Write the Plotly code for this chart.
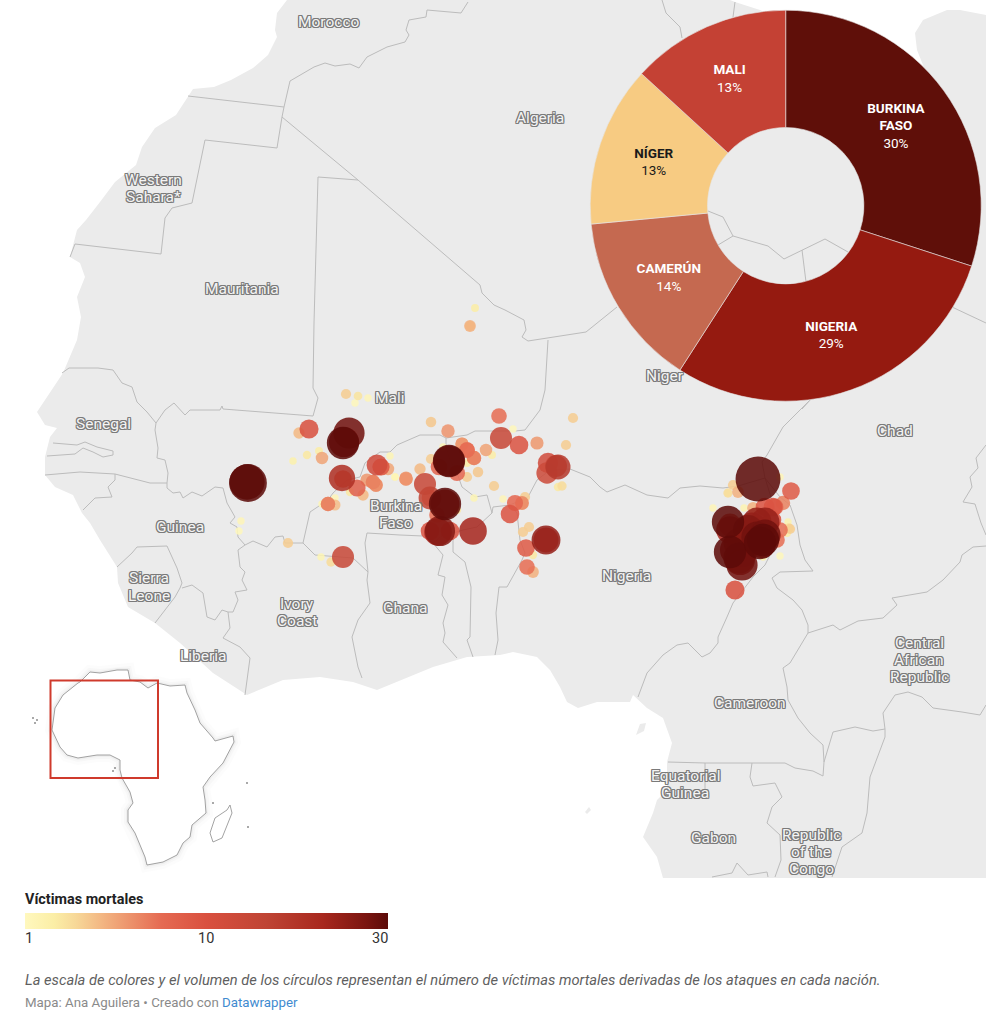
import math
import plotly.graph_objects as go

# Map units are the picture's own pixels
coast = [(287, 0), (277, 13), (275, 30), (277, 37), (268, 55), (253, 68), (231, 80), (214, 87), (193, 89),
         (188, 97), (176, 115), (155, 128), (142, 147), (136, 165), (115, 182), (100, 202), (86, 220), (77, 230),
         (70, 257), (80, 263), (85, 277), (77, 297), (81, 317), (77, 340), (63, 373), (37, 412), (45, 425),
         (57, 428), (50, 437), (45, 457), (45, 475), (55, 487), (73, 495), (82, 513), (90, 523), (100, 540),
         (117, 567), (118, 583), (128, 607), (155, 623), (180, 643), (213, 673), (247, 695), (283, 680),
         (320, 677), (353, 682), (377, 690), (433, 667), (467, 657), (500, 655), (513, 652), (537, 657),
         (550, 670), (560, 687), (567, 702), (578, 708), (597, 702), (630, 702), (633, 695), (647, 708),
         (663, 718), (672, 743), (667, 762), (667, 790), (657, 800), (653, 813), (643, 837), (657, 857),
         (663, 878), (986, 878), (986, 15), (960, 10), (947, 10), (923, 20), (915, 33), (917, 50), (925, 70),
         (800, 30), (760, 10), (735, 2), (730, 0)]
bioko = [(636, 735), (640, 724), (646, 723), (644, 731)]
sao_tome = [(585, 812), (589, 807), (591, 810), (587, 814)]

borders = [
    [(468, 2), (461, 13), (427, 10), (426, 17), (409, 20), (406, 30), (409, 35), (405, 42), (387, 47), (367, 57),
     (359, 68), (350, 64), (335, 66), (325, 63), (314, 67), (290, 81), (284, 107)],
    [(188, 96), (284, 107)],
    [(284, 107), (282, 117), (277, 148), (205, 140), (192, 203), (172, 208), (165, 218), (161, 254), (75, 244),
     (70, 257)],
    [(282, 117), (358, 180), (480, 285), (482, 293), (494, 305), (505, 310), (524, 320), (526, 330), (522, 337),
     (528, 341), (586, 332), (617, 307)],
    [(358, 180), (318, 177), (314, 323), (313, 388), (318, 398), (313, 416), (223, 409), (222, 406), (220, 410),
     (190, 410), (185, 415), (174, 403), (165, 410), (156, 423)],
    [(548, 340), (545, 390), (540, 410), (525, 430), (515, 431), (475, 431), (467, 435), (446, 438)],
    [(62, 373), (69, 368), (98, 368), (113, 370), (122, 383), (132, 387), (137, 402), (147, 412), (156, 423),
     (155, 430), (158, 448), (157, 458), (165, 460), (168, 473), (167, 483)],
    [(53, 443), (77, 445), (85, 442), (97, 447), (113, 451), (113, 455), (103, 457), (93, 452), (83, 448),
     (75, 454), (47, 456)],
    [(45, 475), (80, 472), (115, 474), (132, 478), (150, 483), (167, 483)],
    [(115, 474), (115, 480), (108, 487), (112, 497), (95, 498), (83, 510)],
    [(167, 483), (167, 488), (173, 493), (180, 492), (183, 498), (192, 492), (202, 496), (215, 487), (223, 488),
     (227, 503), (235, 517), (230, 523), (237, 527), (238, 537), (245, 545), (253, 541), (267, 547), (275, 537),
     (283, 536), (285, 543), (303, 543), (310, 512), (328, 500), (333, 493), (347, 480), (360, 477), (365, 463),
     (380, 452), (390, 452), (397, 445), (420, 435), (440, 435), (446, 438), (446, 447), (450, 460), (457, 473),
     (462, 487), (475, 497), (487, 495), (492, 513), (477, 527), (463, 530), (453, 533), (443, 535), (433, 543),
     (423, 536), (400, 535), (367, 533), (365, 543), (368, 572), (353, 558), (315, 555), (303, 543)],
    [(368, 572), (367, 580), (370, 603), (358, 620), (352, 637), (358, 667), (362, 678)],
    [(245, 545), (238, 550), (240, 567), (245, 572), (242, 580), (247, 590), (235, 592), (238, 600), (233, 612),
     (228, 612), (222, 610), (215, 620), (207, 617), (203, 593), (192, 585), (182, 588)],
    [(117, 567), (132, 553), (137, 547), (167, 546), (177, 568), (182, 583), (180, 588), (175, 597), (155, 623)],
    [(228, 612), (230, 628), (223, 638), (240, 647), (250, 658), (245, 695)],
    [(433, 543), (443, 555), (438, 575), (445, 577), (442, 595), (448, 605), (443, 623), (445, 633), (443, 642),
     (457, 658)],
    [(453, 533), (453, 552), (465, 562), (471, 587), (470, 637), (467, 640), (473, 657)],
    [(492, 513), (493, 507), (510, 505), (517, 513), (520, 540), (525, 553), (522, 560), (518, 567), (507, 587),
     (499, 587), (496, 613), (498, 640), (495, 655)],
    [(510, 505), (528, 497), (537, 480), (550, 470), (570, 469), (590, 477), (600, 487), (607, 492), (625, 485),
     (647, 495), (668, 498), (680, 488), (700, 486), (723, 488), (738, 486), (765, 478)],
    [(802, 409), (812, 398), (783, 427), (767, 455), (762, 462), (765, 478), (780, 497), (790, 505), (797, 525),
     (800, 545), (805, 560), (813, 571), (780, 572), (772, 578), (777, 588), (793, 600), (802, 610), (808, 625),
     (808, 633), (833, 625), (840, 630), (858, 621), (883, 618), (897, 605), (892, 598), (927, 592), (943, 580),
     (960, 562), (962, 555), (973, 547), (986, 546)],
    [(986, 445), (976, 458), (978, 468), (970, 477), (972, 487), (963, 502), (975, 504), (981, 523), (986, 535)],
    [(765, 478), (775, 510), (775, 545), (765, 565), (753, 577), (733, 603), (727, 617), (718, 637), (718, 643),
     (710, 653), (702, 657), (688, 643), (677, 645), (663, 655), (647, 673), (638, 697)],
    [(808, 633), (798, 650), (790, 663), (783, 668), (787, 687), (788, 700), (798, 718), (810, 733), (823, 745),
     (824, 762), (833, 732), (855, 727), (873, 731), (885, 729), (883, 713), (895, 695), (908, 692), (922, 697),
     (933, 708), (962, 712), (980, 715), (986, 705)],
    [(885, 729), (885, 737), (870, 777), (867, 813), (862, 833), (842, 847), (832, 877)],
    [(668, 762), (705, 763), (752, 763), (785, 763), (795, 768), (813, 771), (823, 776), (824, 762)],
    [(705, 763), (705, 792), (667, 790)],
    [(752, 763), (750, 777), (753, 786), (775, 783), (782, 797), (772, 807), (767, 823), (780, 835), (781, 860),
     (775, 877)],
    [(712, 877), (732, 873), (737, 863), (748, 875), (767, 872), (768, 877)],
    [(708, 211), (723, 217), (733, 236), (718, 245)],
    [(733, 236), (768, 246), (784, 259), (802, 250), (825, 239), (848, 252)],
    [(802, 250), (806, 282)],
    [(662, 0), (666, 13), (680, 27), (682, 38)],
    [(735, 2), (733, 17)],
    [(952, 307), (986, 323)],
]

africa = [(80, 682), (90, 672), (100, 673), (117, 670), (128, 670), (130, 680), (140, 682), (148, 688), (157, 683),
          (170, 686), (185, 685), (187, 693), (195, 710), (200, 723), (213, 738), (215, 741), (233, 736), (234, 742),
          (223, 763), (210, 777), (203, 787), (205, 800), (206, 813), (192, 825), (190, 837), (183, 843), (177, 855),
          (163, 862), (147, 865), (145, 857), (135, 833), (128, 822), (128, 810), (133, 803), (130, 792), (122, 778),
          (120, 770), (120, 760), (110, 755), (97, 755), (78, 758), (67, 755), (60, 747), (52, 730), (55, 708),
          (63, 695), (78, 683), (80, 682)]
madagascar = [(230, 805), (232, 813), (222, 838), (213, 842), (210, 833), (215, 818), (227, 810), (230, 805)]
inset_islands_x = [33, 37, 35, 115, 113, 247, 248, 213]
inset_islands_y = [718, 720, 723, 768, 771, 783, 827, 803]

# Attacks: position on the map and number of deaths
event_x = [248, 247, 309, 299, 349, 343, 344, 307, 293, 319, 322, 342, 343, 377, 381, 388, 390, 395, 406, 406, 367, 373,
           376, 357, 350, 363, 328, 335, 322, 335, 420, 431, 448, 499, 513, 501, 519, 537, 573, 566, 462, 467, 474,
           486, 492, 443, 431, 449, 449, 439, 457, 467, 478, 467, 494, 474, 503, 425, 430, 445, 445, 437, 457, 430,
           438, 440, 450, 473, 515, 522, 525, 510, 548, 547, 558, 556, 558, 562, 529, 523, 546, 546, 526, 533, 527,
           533, 343, 331, 321, 288, 241, 239, 346, 358, 368, 355, 475, 470, 470, 758, 791, 735, 728, 730, 730, 739,
           742, 737, 752, 765, 757, 763, 760, 747, 738, 773, 765, 780, 777, 772, 783, 753, 738, 733, 728, 713, 744,
           788, 790, 789, 787, 780, 763, 780,
           467, 474, 381, 373, 376, 406, 328, 522, 430, 462, 757, 740, 762, 730, 775, 395, 790, 728, 470,
           748, 757, 765, 735, 742]
event_y = [483, 482, 429, 433, 433, 443, 442, 455, 461, 451, 458, 478, 479, 465, 467, 469, 456, 477, 479, 478, 480, 482,
           485, 488, 492, 495, 504, 505, 504, 498, 469, 422, 431, 416, 429, 438, 445, 443, 418, 445, 444, 450, 458,
           450, 455, 447, 459, 461, 461, 467, 473, 477, 472, 463, 486, 498, 499, 484, 498, 504, 504, 515, 510, 531,
           532, 531, 531, 531, 503, 503, 497, 514, 463, 473, 467, 466, 487, 486, 527, 532, 540, 540, 548, 555, 567,
           572, 557, 562, 557, 543, 521, 531, 394, 396, 398, 403, 308, 326, 326, 479, 491, 590, 522, 530, 552, 558,
           565, 547, 527, 522, 537, 540, 543, 540, 543, 507, 507, 530, 540, 520, 503, 508, 492, 485, 493, 508, 508,
           522, 529, 528, 533, 556, 557, 477,
           450, 458, 467, 482, 485, 479, 504, 503, 498, 444, 540, 560, 545, 525, 507, 477, 529, 493, 326,
           530, 522, 535, 550, 552]
event_deaths = [41, 36, 10.5, 3.7, 28, 30, 26, 2, 1.6, 1.8, 4.5, 20, 9, 12.5, 8.5, 4.4, 1.3, 1.3, 5.2, 5, 5, 6,
                5.5, 8.5, 2, 3.7, 6, 3.5, 1.3, 1.2, 3.7, 3.2, 5.2, 7, 1.1, 14, 10, 5, 3, 3, 5, 7, 6,
                4.5, 1.8, 1.3, 3, 30, 28, 8, 7.5, 3, 3.2, 1.8, 3, 1.3, 1.2, 14, 15, 30, 24, 7, 2, 10,
                22, 26, 10, 22, 7.5, 5.5, 3, 10, 12, 13, 18, 14, 2, 2.5, 3, 3, 24, 18, 9, 2, 7,
                4, 14, 2.5, 1.3, 3, 1.2, 1.1, 3, 2.2, 1.2, 1.1, 1.8, 4, 3, 58, 9, 10.5, 30, 22, 30, 28,
                28, 12, 24, 24, 28, 30, 30, 20, 24, 10, 10, 7, 7, 10, 6, 4, 4, 3, 2.5, 1.2, 1.4,
                1.5, 3, 2.5, 1.8, 1.1, 1.5, 1.2,
                7, 6, 8, 6, 5, 5, 6, 5, 8, 5, 26, 26, 20, 15, 8, 1.2, 1.5, 1.5, 2,
                26, 24, 28, 26, 26]

# Share of deaths by country
pie_labels = ['BURKINA<br>FASO', 'NIGERIA', 'CAMERÚN', 'NÍGER', 'MALI']
pie_values = [30.0, 29.1, 14.4, 13.3, 13.2]
pie_colors = ['#5f0f09', '#951a10', '#c56950', '#f7cb82', '#c44134']
pie_text_colors = ['#ffffff', '#ffffff', '#ffffff', '#1a1a1a', '#ffffff']

# One entry per printed line
place_names = ['Morocco', 'Algeria', 'Western', 'Sahara*', 'Mauritania', 'Mali', 'Senegal', 'Guinea', 'Sierra', 'Leone',
               'Ivory', 'Coast', 'Ghana', 'Liberia', 'Burkina', 'Faso', 'Nigeria', 'Niger', 'Chad', 'Central',
               'African', 'Republic', 'Cameroon', 'Equatorial', 'Guinea', 'Gabon', 'Republic', 'of the', 'Congo']
place_x = [329, 540, 153, 153, 242, 390, 103, 180, 149, 149, 297, 297, 405, 203, 396, 396, 626, 665, 895, 919,
           919, 919, 750, 685, 685, 713, 811, 811, 811]
place_y = [22, 118, 180, 197, 289, 398, 424, 527, 578, 596, 604, 621, 608, 656, 506, 523, 576, 376, 431, 643,
           660, 677, 703, 776, 793, 838, 835, 852, 869]

scale_ticks = [1, 10, 30]
scale_colors = [[0, '#fff8be'], [0.08, '#fbeea6'], [0.14, '#f7d898'], [0.21, '#f3b783'], [0.376, '#e56a52'],
                [0.5, '#d9503f'], [0.665, '#bf4434'], [0.82, '#a8281e'], [0.94, '#7a1510'], [1, '#5c0b08']]


def xs(points):
    return [p[0] for p in points]


def ys(points):
    return [p[1] for p in points]


fig = go.Figure()

# Land
for shape in [coast, bioko, sao_tome]:
    fig.add_trace(go.Scatter(x=xs(shape), y=ys(shape), mode='lines', fill='toself', fillcolor='#ebebeb',
                             line=dict(width=0), hoverinfo='skip'))

# Country borders
border_x, border_y = [], []
for line in borders:
    border_x += xs(line) + [None]
    border_y += ys(line) + [None]
fig.add_trace(go.Scatter(x=border_x, y=border_y, mode='lines', line=dict(color='#bcbcbc', width=1), hoverinfo='skip'))

# Locator map, with a soft halo round Africa
for width, color in [(14, 'rgba(0,0,0,0.012)'), (8, 'rgba(0,0,0,0.02)'), (4, 'rgba(0,0,0,0.03)')]:
    fig.add_trace(go.Scatter(x=xs(africa), y=ys(africa), mode='lines', line=dict(color=color, width=width),
                             hoverinfo='skip'))
for shape in [africa, madagascar]:
    fig.add_trace(go.Scatter(x=xs(shape), y=ys(shape), mode='lines', fill='toself', fillcolor='white',
                             line=dict(color='#8c8c8c', width=0.8), hoverinfo='skip'))
fig.add_trace(go.Scatter(x=inset_islands_x, y=inset_islands_y, mode='markers',
                         marker=dict(color='#8c8c8c', size=2), hoverinfo='skip'))

# Attacks, smallest first so the big ones sit on top.
# Colour runs on the square root of deaths, area on deaths
order = sorted(range(len(event_deaths)), key=lambda i: event_deaths[i])
fig.add_trace(go.Scatter(x=[event_x[i] for i in order], y=[event_y[i] for i in order], mode='markers',
                         hoverinfo='skip',
                         marker=dict(size=[event_deaths[i] for i in order], sizemode='area', sizeref=0.0575,
                                     sizemin=3.7, color=[math.sqrt(event_deaths[i]) for i in order],
                                     cmin=1, cmax=math.sqrt(scale_ticks[-1]), colorscale=scale_colors,
                                     opacity=0.86, line=dict(width=0),
                                     colorbar=dict(orientation='h', x=25 / 986, xanchor='left', y=1 - 913 / 1024,
                                                   yanchor='top', lenmode='pixels', len=363, thicknessmode='pixels',
                                                   thickness=16, xpad=0, ypad=0, outlinewidth=0, ticks='',
                                                   showticklabels=False))))

# Donut with the share per country
fig.add_trace(go.Pie(labels=pie_labels, values=pie_values, sort=False, direction='clockwise', rotation=0, hole=0.4,
                     domain=dict(x=[(785.7 - 195.5) / 986, (785.7 + 195.5) / 986],
                                 y=[1 - 401.2 / 1024, 1 - 10.2 / 1024]),
                     marker=dict(colors=pie_colors, line=dict(color='#e6e6e6', width=0.6)),
                     texttemplate='<b>%{label}</b><br>%{percent:.0%}', textposition='inside',
                     insidetextorientation='horizontal',
                     textfont=dict(family='Roboto', size=13.5, color=pie_text_colors),
                     hoverinfo='label+percent', showlegend=False))

halo = ('-1px -1px 0 #7a7a7a, 1px -1px 0 #7a7a7a, -1px 1px 0 #7a7a7a, 1px 1px 0 #7a7a7a, '
        '0 -1px 0 #7a7a7a, 0 1px 0 #7a7a7a, -1px 0 0 #7a7a7a, 1px 0 0 #7a7a7a')
annotations = []
for name, x, y in zip(place_names, place_x, place_y):
    annotations.append(dict(x=x, y=y, text=name, showarrow=False, xanchor='center', yanchor='middle',
                            font=dict(family='Roboto', size=15.5, color='#f4f4f4', shadow=halo)))

# Legend and footer text
annotations += [
    dict(x=22.5, y=899, text='<b>Víctimas mortales</b>', showarrow=False, xanchor='left', yanchor='middle',
         font=dict(family='Roboto', size=14.4, color='#222222')),
    dict(x=23, y=938, text=str(scale_ticks[0]), showarrow=False, xanchor='left', yanchor='middle',
         font=dict(family='Roboto', size=14.5, color='#333333')),
    dict(x=206, y=938, text=str(scale_ticks[1]), showarrow=False, xanchor='center', yanchor='middle',
         font=dict(family='Roboto', size=14.5, color='#333333')),
    dict(x=389.5, y=938, text=str(scale_ticks[2]), showarrow=False, xanchor='right', yanchor='middle',
         font=dict(family='Roboto', size=14.5, color='#333333')),
    dict(x=22.5, y=980, showarrow=False, xanchor='left', yanchor='middle',
         text='<i>La escala de colores y el volumen de los círculos representan el número de víctimas '
              'mortales derivadas de los ataques en cada nación.</i>',
         font=dict(family='Roboto', size=14.7, color='#5f5f5f')),
    dict(x=22.5, y=1002, showarrow=False, xanchor='left', yanchor='middle',
         text='Mapa: Ana Aguilera • Creado con <span style="color:#3f8bd0">Datawrapper</span>',
         font=dict(family='Roboto', size=13.3, color='#8a8a8a')),
]

fig.update_layout(width=986, height=1024, margin=dict(l=0, r=0, t=0, b=0, autoexpand=False), showlegend=False,
                  paper_bgcolor='white', plot_bgcolor='white', annotations=annotations,
                  xaxis=dict(range=[0, 986], visible=False),
                  yaxis=dict(range=[1024, 0], visible=False),
                  shapes=[dict(type='rect', xref='x', yref='y', x0=50.5, x1=158, y0=680.5, y1=778,
                               line=dict(color='#cf3a2c', width=2), layer='above')])

# The page's default body margin would push the figure off the window
fig.write_html("out.html", config=dict(displayModeBar=False), post_script="document.body.style.margin = '0';")
